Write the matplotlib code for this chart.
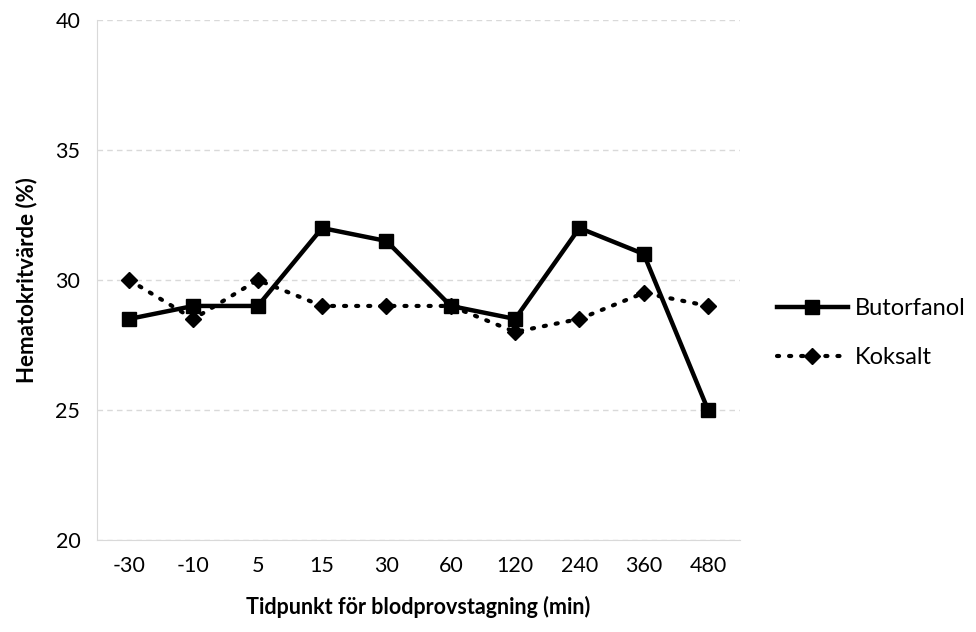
import matplotlib
matplotlib.use("Agg")
import matplotlib.pyplot as plt

timepoints = ["-30", "-10", "5", "15", "30", "60", "120", "240", "360", "480"]
butorfanol = [28.5, 29, 29, 32, 31.5, 29, 28.5, 32, 31, 25]
koksalt = [30, 28.5, 30, 29, 29, 29, 28, 28.5, 29.5, 29]

plt.rcParams['font.family'] = ['Lato', 'DejaVu Sans']

fig = plt.figure(figsize=(9.76, 6.32), dpi=100)
ax = fig.add_axes([0.0994, 0.146, 0.659, 0.822])

x = list(range(len(timepoints)))
ax.plot(x, butorfanol, color="black", lw=3.2, marker="s", markersize=10,
        label="Butorfanol", solid_joinstyle="miter")
ax.plot(x, koksalt, color="black", lw=3.0, linestyle=(0, (0.5, 2.4)),
        dash_capstyle="round", marker="D", markersize=8.5, label="Koksalt")

ax.set_xlim(-0.5, len(timepoints) - 0.5)
ax.set_ylim(20, 40)
ax.set_yticks([20, 25, 30, 35, 40])
ax.set_xticks(x)
ax.set_xticklabels(timepoints)
ax.grid(axis="y", color="#d9d9d9", linestyle=(0, (4, 3)), lw=1)
ax.set_axisbelow(True)

for s in ["top", "right"]:
    ax.spines[s].set_visible(False)
ax.spines["left"].set_color("#d9d9d9")
ax.spines["bottom"].set_color("#d9d9d9")
ax.tick_params(length=0, labelsize=15.5, colors="black")
ax.tick_params(axis="y", pad=12)
ax.tick_params(axis="x", pad=12)

ax.set_xlabel("Tidpunkt för blodprovstagning (min)", fontsize=15.5, fontweight="bold", labelpad=14)
ax.set_ylabel("Hematokritvärde (%)", fontsize=16, fontweight="bold", labelpad=13)

fig.legend(loc="center left", bbox_to_anchor=(0.796, 0.473), frameon=False,
           fontsize=17, handlelength=3.0, labelspacing=1.2, handletextpad=0.3,
           borderpad=0, borderaxespad=0)

fig.savefig("out.png", dpi=100)
